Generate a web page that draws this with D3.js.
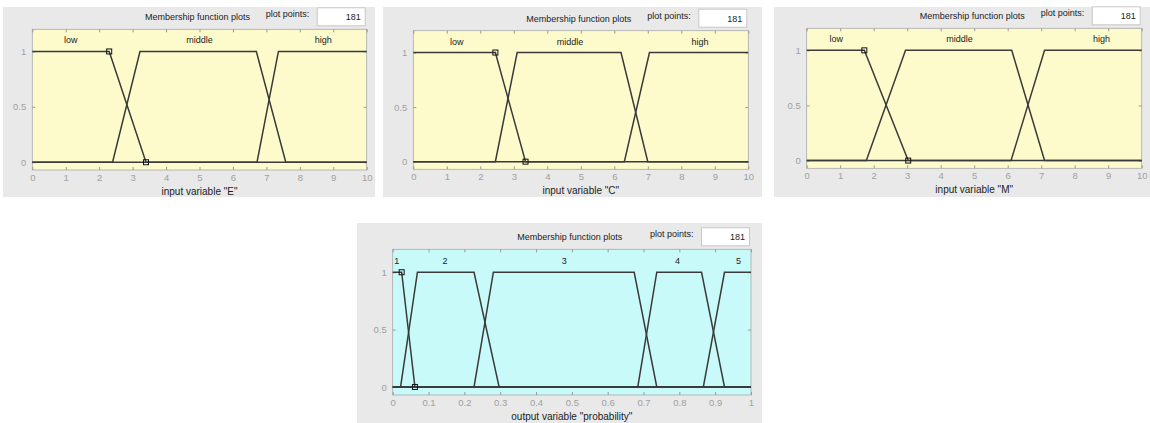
<!DOCTYPE html>
<html>
<head>
<meta charset="utf-8">
<script src="https://d3js.org/d3.v7.min.js"></script>
<style>
  body { margin: 0; background: #fff; }
  svg { font-family: "Liberation Sans", Arial, sans-serif; }
</style>
</head>
<body>
<div id="my_dataviz"></div>
<script>
// ---- data ----
var inTicks = [0, 1, 2, 3, 4, 5, 6, 7, 8, 9, 10];
var outTicks = [0, 0.1, 0.2, 0.3, 0.4, 0.5, 0.6, 0.7, 0.8, 0.9, 1];
var yTicks = [0, 0.5, 1];

var inNames = ["low", "middle", "high"];
var outNames = ["1", "2", "3", "4", "5"];

// trapezoids [a, b, c, d]
var mfE = [[0, 0, 2.3, 3.4], [2.4, 3.22, 6.7, 7.58], [6.72, 7.36, 10, 10]];
var mfC = [[0, 0, 2.45, 3.35], [2.45, 3.1, 6.2, 7.0], [6.3, 7.05, 10, 10]];
var mfM = [[0, 0, 1.72, 3.03], [1.78, 2.95, 6.12, 7.1], [6.1, 7.1, 10, 10]];
var mfP = [[0, 0, 0.025, 0.062], [0.022, 0.069, 0.227, 0.297], [0.227, 0.281, 0.674, 0.737],
           [0.684, 0.737, 0.862, 0.926], [0.867, 0.926, 1, 1]];

// where the mf names sit (x value)
var labE = [1.15, 5.0, 8.7];
var labC = [1.3, 4.68, 8.56];
var labM = [0.88, 4.56, 8.8];
var labP = [0.011, 0.146, 0.479, 0.795, 0.965];

var plotPoints = 181;

// ---- layout of the four windows ----
var panels = [
  {box: [3, 7, 372, 190], plot: [32.3, 29.3, 366.7, 170], bg: "#fdfbcb",
   mf: mfE, names: inNames, lab: labE, ticks: inTicks, dom: [0, 10], title: 'input variable "E"'},
  {box: [383, 7, 379, 190], plot: [413.3, 30.7, 748.3, 169.3], bg: "#fdfbcb",
   mf: mfC, names: inNames, lab: labC, ticks: inTicks, dom: [0, 10], title: 'input variable "C"'},
  {box: [774, 7, 380, 190], plot: [806.7, 28.3, 1141.7, 168.3], bg: "#fdfbcb",
   mf: mfM, names: inNames, lab: labM, ticks: inTicks, dom: [0, 10], title: 'input variable "M"'},
  {box: [357, 223, 405, 210], plot: [392.7, 249.3, 751, 395], bg: "#c9fafa",
   mf: mfP, names: outNames, lab: labP, ticks: outTicks, dom: [0, 1], title: 'output variable "probability"'}
];

var W = 1150, H = 423;
var svg = d3.select("#my_dataviz").append("svg")
    .attr("width", W).attr("height", H);

panels.forEach(function(p) {
  var g = svg.append("g");
  var x0 = p.plot[0], y0 = p.plot[1], x1 = p.plot[2], y1 = p.plot[3];

  // window background
  g.append("rect")
    .attr("x", p.box[0]).attr("y", p.box[1])
    .attr("width", p.box[2]).attr("height", p.box[3])
    .attr("fill", "#e9e9e9");

  var x = d3.scaleLinear().domain(p.dom).range([x0, x1]);
  var y = d3.scaleLinear().domain([-0.07, 1.2]).range([y1, y0]);

  // header: title, plot points box
  g.append("text")
    .attr("x", x0 + (x1 - x0) * 0.5 - 2).attr("y", y0 - 9)
    .attr("text-anchor", "middle").attr("font-size", 9).attr("fill", "#222")
    .text("Membership function plots");
  g.append("text")
    .attr("x", x1 - 101).attr("y", y0 - 12)
    .attr("font-size", 9).attr("fill", "#222")
    .text("plot points:");
  g.append("rect")
    .attr("x", x1 - 49.5).attr("y", y0 - 21.5)
    .attr("width", 48).attr("height", 18)
    .attr("fill", "#fff").attr("stroke", "#c8c8c8");
  g.append("text")
    .attr("x", x1 - 6).attr("y", y0 - 9)
    .attr("text-anchor", "end").attr("font-size", 9).attr("fill", "#222")
    .text(plotPoints);

  // plot area
  g.append("rect")
    .attr("x", x0).attr("y", y0)
    .attr("width", x1 - x0).attr("height", y1 - y0)
    .attr("fill", p.bg).attr("stroke", "#a8a8a8").attr("stroke-width", 0.8);

  // axes (ticks pointing inside)
  var fmt = function(d) { return String(d); };
  var xb = g.append("g").attr("transform", "translate(0," + y1 + ")")
    .call(d3.axisBottom(x).tickValues(p.ticks).tickSize(-3).tickPadding(4).tickFormat(fmt));
  var xt = g.append("g").attr("transform", "translate(0," + y0 + ")")
    .call(d3.axisTop(x).tickValues(p.ticks).tickSize(-3).tickFormat(""));
  var yl = g.append("g").attr("transform", "translate(" + x0 + ",0)")
    .call(d3.axisLeft(y).tickValues(yTicks).tickSize(-3).tickPadding(6).tickFormat(fmt));
  var yr = g.append("g").attr("transform", "translate(" + x1 + ",0)")
    .call(d3.axisRight(y).tickValues(yTicks).tickSize(-3).tickFormat(""));
  [xb, xt, yl, yr].forEach(function(a) {
    a.select(".domain").remove();
    a.selectAll("line").attr("stroke", "#999");
    a.selectAll("text").attr("fill", "#a0a0a0").attr("font-size", 9.5)
      .attr("font-family", "Liberation Sans, Arial, sans-serif");
  });

  // axis label
  g.append("text")
    .attr("x", x0 + (x1 - x0) * 0.5).attr("y", y1 + 25)
    .attr("text-anchor", "middle").attr("font-size", 10).attr("fill", "#222")
    .text(p.title);

  // membership functions
  var line = d3.line().x(function(d) { return x(d[0]); }).y(function(d) { return y(d[1]); });
  p.mf.forEach(function(t, i) {
    var pts = [];
    if (t[0] > p.dom[0]) pts.push([p.dom[0], 0]);
    if (t[0] < t[1]) pts.push([t[0], 0]);
    pts.push([t[1], 1]);
    pts.push([t[2], 1]);
    if (t[2] < t[3]) pts.push([t[3], 0]);
    if (t[3] < p.dom[1]) pts.push([p.dom[1], 0]);
    g.append("path")
      .attr("d", line(pts))
      .attr("fill", "none").attr("stroke", "#3a3a3a").attr("stroke-width", 1.5);

    g.append("text")
      .attr("x", x(p.lab[i])).attr("y", y(1.1) + 3)
      .attr("text-anchor", "middle").attr("font-size", 9).attr("fill", "#222")
      .text(p.names[i]);
  });

  // selected mf markers (first one)
  var sel = p.mf[0];
  g.selectAll(".mk").data([[sel[2], 1], [sel[3], 0]]).enter()
    .append("rect")
    .attr("x", function(d) { return x(d[0]) - 2.5; })
    .attr("y", function(d) { return y(d[1]) - 2.5; })
    .attr("width", 5).attr("height", 5)
    .attr("fill", "none").attr("stroke", "#111").attr("stroke-width", 1);
});
</script>
</body>
</html>
